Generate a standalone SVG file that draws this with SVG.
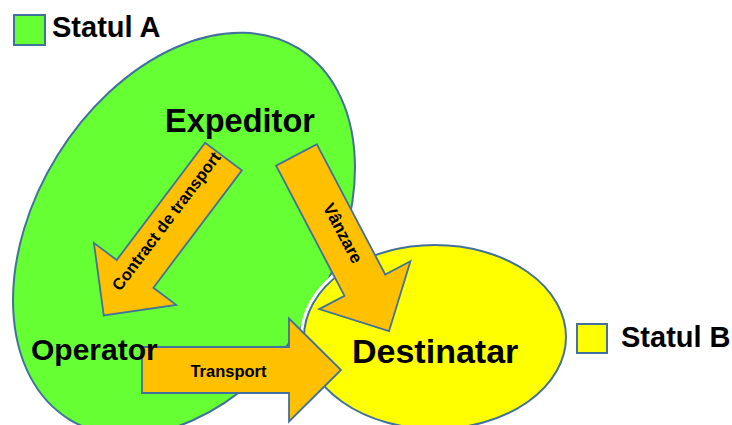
<svg xmlns="http://www.w3.org/2000/svg" width="732" height="425" viewBox="0 0 732 425">
<style>
.state{stroke:#41719C;stroke-width:2}
.arrow{fill:#FFC000;stroke:#41719C;stroke-width:1.8;stroke-linejoin:miter}
.big{font-family:"Liberation Sans",Arial,sans-serif;font-weight:bold;fill:#000}
.lbl{font-family:"Liberation Sans",Arial,sans-serif;font-weight:bold;font-size:16.5px;fill:#000}
</style>
<defs>
<path id="blk" d="M0,-23 L147,-23 L147,-51.5 L199,0 L147,51.5 L147,23 L0,23 Z"/>
</defs>
<rect width="732" height="425" fill="#FFFFFF"/>
<g id="statulA">
<ellipse class="state" cx="184" cy="234" rx="149" ry="218" transform="rotate(31.8 184 234)" fill="#66FF33"/>
</g>
<g id="statulB">
<ellipse cx="435" cy="337" rx="131" ry="92" fill="none" stroke="#FFFFFF" stroke-width="8"/>
<ellipse class="state" cx="435" cy="337" rx="131" ry="92" fill="#FFFF00"/>
</g>
<g id="connectors">
<use href="#blk" class="arrow" transform="translate(223.5,156.5) rotate(127)"/>
<use href="#blk" class="arrow" transform="translate(296.5,155) rotate(62.3)"/>
<use href="#blk" class="arrow" transform="translate(142,370)"/>
<text class="lbl" transform="translate(166,221) rotate(-53)" y="6" text-anchor="middle">Contract de transport</text>
<text class="lbl" transform="translate(343,233) rotate(62.3)" y="6" text-anchor="middle" style="font-size:17px">Vânzare</text>
<text class="lbl" x="228.5" y="377" text-anchor="middle">Transport</text>
</g>
<g id="legendA">
<rect class="state" x="14" y="15" width="31" height="30" fill="#66FF33"/>
<text class="big" x="52" y="37" style="font-size:29px">Statul A</text>
</g>
<g id="legendB">
<rect class="state" x="577" y="324" width="30" height="29" fill="#FFFF00"/>
<text class="big" x="621" y="347" style="font-size:29px">Statul B</text>
</g>
<g id="expeditor">
<text class="big" x="165" y="132" style="font-size:32.5px">Expeditor</text>
</g>
<g id="operator">
<text class="big" x="31" y="360" style="font-size:30px">Operator</text>
</g>
<g id="destinatar">
<text class="big" x="352" y="363" style="font-size:34px">Destinatar</text>
</g>
</svg>
